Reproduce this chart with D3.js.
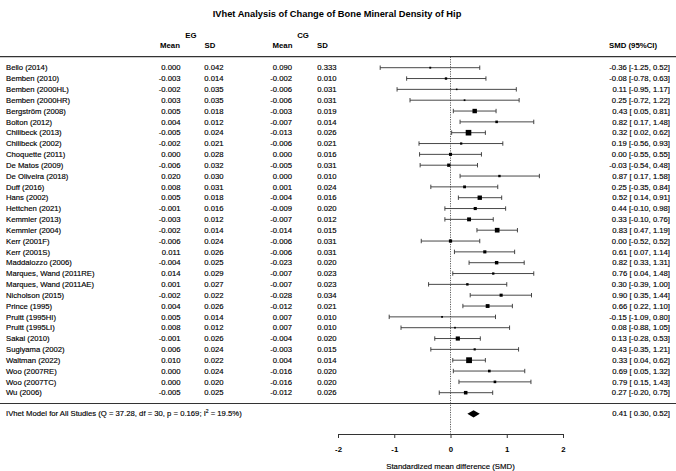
<!DOCTYPE html>
<html>
<head>
<meta charset="utf-8">
<script src="https://cdn.jsdelivr.net/npm/d3@7"></script>
<style>
  body { margin: 0; background: #fff; }
  svg { font-family: "Liberation Sans", Arial, Helvetica, sans-serif; }
  text { white-space: pre; fill: #000; }
</style>
</head>
<body>
<svg id="forest" width="676" height="471"></svg>
<script>
// study rows, top to bottom
const studies = [
  "Bello (2014)", "Bemben (2010)", "Bemben (2000HL)", "Bemben (2000HR)", "Bergström (2008)",
  "Bolton (2012)", "Chilibeck (2013)", "Chilibeck (2002)", "Choquette (2011)", "De Matos (2009)",
  "De Oliveira (2018)", "Duff (2016)", "Hans (2002)", "Hettchen (2021)", "Kemmler (2013)",
  "Kemmler (2004)", "Kerr (2001F)", "Kerr (2001S)", "Maddalozzo (2006)", "Marques, Wand (2011RE)",
  "Marques, Wand (2011AE)", "Nicholson (2015)", "Prince (1995)", "Pruitt (1995HI)", "Pruitt (1995LI)",
  "Sakai (2010)", "Sugiyama (2002)", "Waltman (2022)", "Woo (2007RE)", "Woo (2007TC)", "Wu (2006)"
];
const egMean = [0.000, -0.003, -0.002, 0.003, 0.005, 0.004, -0.005, -0.002, 0.000, -0.006,
  0.020, 0.008, 0.005, -0.001, -0.003, -0.002, -0.006, 0.011, -0.004, 0.014,
  0.001, -0.002, 0.004, 0.005, 0.008, -0.001, 0.006, 0.010, 0.000, 0.000, -0.005];
const egSD = [0.042, 0.014, 0.035, 0.035, 0.018, 0.012, 0.024, 0.021, 0.028, 0.032,
  0.030, 0.031, 0.018, 0.016, 0.012, 0.014, 0.024, 0.026, 0.025, 0.029,
  0.027, 0.022, 0.026, 0.014, 0.012, 0.026, 0.024, 0.022, 0.024, 0.020, 0.025];
const cgMean = [0.090, -0.002, -0.006, -0.006, -0.003, -0.007, -0.013, -0.006, 0.000, -0.005,
  0.000, 0.001, -0.004, -0.009, -0.007, -0.014, -0.006, -0.006, -0.023, -0.007,
  -0.007, -0.028, -0.012, 0.007, 0.007, -0.004, -0.003, 0.004, -0.016, -0.016, -0.012];
const cgSD = [0.333, 0.010, 0.031, 0.031, 0.019, 0.014, 0.026, 0.021, 0.016, 0.031,
  0.010, 0.024, 0.016, 0.020, 0.012, 0.015, 0.031, 0.031, 0.020, 0.023,
  0.023, 0.034, 0.021, 0.010, 0.010, 0.020, 0.015, 0.014, 0.020, 0.020, 0.026];
const smd = [-0.36, -0.08, 0.11, 0.25, 0.43, 0.82, 0.32, 0.19, 0.00, -0.03,
  0.87, 0.25, 0.52, 0.44, 0.33, 0.83, 0.00, 0.61, 0.82, 0.76,
  0.30, 0.90, 0.66, -0.15, 0.08, 0.13, 0.43, 0.33, 0.69, 0.79, 0.27];
const ciLow = [-1.25, -0.78, -0.95, -0.72, 0.05, 0.17, 0.02, -0.56, -0.55, -0.54,
  0.17, -0.35, 0.14, -0.10, -0.10, 0.47, -0.52, 0.07, 0.33, 0.04,
  -0.39, 0.35, 0.22, -1.09, -0.88, -0.28, -0.35, 0.04, 0.05, 0.15, -0.20];
const ciHigh = [0.52, 0.63, 1.17, 1.22, 0.81, 1.48, 0.62, 0.93, 0.55, 0.48,
  1.58, 0.84, 0.91, 0.98, 0.76, 1.19, 0.52, 1.14, 1.31, 1.48,
  1.00, 1.44, 1.10, 0.80, 1.05, 0.53, 1.21, 0.62, 1.32, 1.43, 0.75];

// pooled estimate
const pooled = {est: 0.41, lo: 0.30, hi: 0.52};
const xTicks = [-2, -1, 0, 1, 2];

const svg = d3.select("#forest");
const W = 676;

const rows = studies.map(function(name, i){
  let se = (ciHigh[i] - ciLow[i]) / 3.92;
  return {name: name, egM: egMean[i], egS: egSD[i], cgM: cgMean[i], cgS: cgSD[i],
          est: smd[i], lo: ciLow[i], hi: ciHigh[i], w: 1 / (se * se)};
});

let x = d3.scaleLinear().domain([-2, 2]).range([338, 563]);
let y = d3.scalePoint().domain(studies).range([67.7, 392.7]);
let size = d3.scaleSqrt().domain([0, d3.max(rows, d => d.w)]).range([0, 5.8]);

// plain hyphen for negatives, like the original
let loc = d3.formatLocale({decimal: ".", thousands: ",", grouping: [3], currency: ["", ""], minus: "-"});
let f3 = loc.format(".3f");
let f2 = loc.format(".2f");
function ciText(e, lo, hi){
  return f2(e) + " [" + (lo >= 0 ? " " : "") + f2(lo) + ", " + f2(hi) + "]";
}

const topLine = 56.7, sepLine = 403.5, sumY = 413.8, axisY = 434;

// title
svg.append("text")
  .attr("x", 337).attr("y", 14).attr("dy", "0.35em")
  .attr("text-anchor", "middle")
  .attr("font-size", "9.3px").attr("font-weight", "bold")
  .text("IVhet Analysis of Change of Bone Mineral Density of Hip");

// column headers
let head = svg.append("g").attr("font-size", "7.8px").attr("font-weight", "bold").attr("text-anchor", "middle");
head.append("text").attr("x", 191).attr("y", 35.5).attr("dy", "0.35em").text("EG");
head.append("text").attr("x", 303).attr("y", 35.5).attr("dy", "0.35em").text("CG");
head.append("text").attr("x", 170).attr("y", 45.5).attr("dy", "0.35em").text("Mean");
head.append("text").attr("x", 210).attr("y", 45.5).attr("dy", "0.35em").text("SD");
head.append("text").attr("x", 282.5).attr("y", 45.5).attr("dy", "0.35em").text("Mean");
head.append("text").attr("x", 322.5).attr("y", 45.5).attr("dy", "0.35em").text("SD");
head.append("text").attr("x", 633).attr("y", 45.5).attr("dy", "0.35em").text("SMD (95%CI)");

// horizontal rules
svg.append("line").attr("x1", 0).attr("x2", W).attr("y1", topLine).attr("y2", topLine)
  .attr("stroke", "#333").attr("stroke-width", 1.2);
svg.append("line").attr("x1", 0).attr("x2", W).attr("y1", sepLine).attr("y2", sepLine)
  .attr("stroke", "#333").attr("stroke-width", 1.2);

// null line
svg.append("line").attr("x1", x(0)).attr("x2", x(0)).attr("y1", topLine).attr("y2", axisY)
  .attr("stroke", "#333").attr("stroke-width", 0.8).attr("stroke-dasharray", "1.2,1.2");

// table text
let tbl = svg.append("g").attr("font-size", "7.7px").attr("stroke", "#000").attr("stroke-width", 0.15);
let rowG = tbl.selectAll("g.row").data(rows).enter().append("g").attr("class", "row")
  .attr("transform", d => "translate(0," + y(d.name) + ")");
rowG.append("text").attr("x", 6).attr("dy", "0.35em").text(d => d.name);
rowG.append("text").attr("x", 180.5).attr("dy", "0.35em").attr("text-anchor", "end").text(d => f3(d.egM));
rowG.append("text").attr("x", 223.5).attr("dy", "0.35em").attr("text-anchor", "end").text(d => f3(d.egS));
rowG.append("text").attr("x", 292).attr("dy", "0.35em").attr("text-anchor", "end").text(d => f3(d.cgM));
rowG.append("text").attr("x", 336.5).attr("dy", "0.35em").attr("text-anchor", "end").text(d => f3(d.cgS));
rowG.append("text").attr("x", 670).attr("dy", "0.35em").attr("text-anchor", "end").text(d => ciText(d.est, d.lo, d.hi));

// CI bars with caps
let marks = svg.append("g").attr("stroke", "#333").attr("stroke-width", 0.9);
marks.selectAll("line.ci").data(rows).enter().append("line").attr("class", "ci")
  .attr("x1", d => x(d.lo)).attr("x2", d => x(d.hi))
  .attr("y1", d => y(d.name)).attr("y2", d => y(d.name));
marks.selectAll("line.capL").data(rows).enter().append("line").attr("class", "capL")
  .attr("x1", d => x(d.lo)).attr("x2", d => x(d.lo))
  .attr("y1", d => y(d.name) - 2.2).attr("y2", d => y(d.name) + 2.2);
marks.selectAll("line.capR").data(rows).enter().append("line").attr("class", "capR")
  .attr("x1", d => x(d.hi)).attr("x2", d => x(d.hi))
  .attr("y1", d => y(d.name) - 2.2).attr("y2", d => y(d.name) + 2.2);

// weighted squares
svg.append("g").selectAll("rect").data(rows).enter().append("rect")
  .attr("x", d => x(d.est) - size(d.w) / 2)
  .attr("y", d => y(d.name) - size(d.w) / 2)
  .attr("width", d => size(d.w)).attr("height", d => size(d.w))
  .attr("fill", "#000");

// summary row
let sum = svg.append("text").attr("x", 6).attr("y", sumY).attr("dy", "0.35em").attr("font-size", "7.7px")
  .attr("stroke", "#000").attr("stroke-width", 0.15);
sum.append("tspan").text("IVhet Model for All Studies (Q = 37.28, df = 30, p = 0.169; I");
sum.append("tspan").attr("font-size", "5px").attr("dy", "-3").text("2");
sum.append("tspan").attr("dy", "3").text(" = 19.5%)");
svg.append("text").attr("x", 670).attr("y", sumY).attr("dy", "0.35em").attr("font-size", "7.7px")
  .attr("stroke", "#000").attr("stroke-width", 0.15)
  .attr("text-anchor", "end").text(ciText(pooled.est, pooled.lo, pooled.hi));

svg.append("path")
  .attr("d", "M" + x(pooled.lo) + "," + sumY + "L" + x(pooled.est) + "," + (sumY - 3.6) +
             "L" + x(pooled.hi) + "," + sumY + "L" + x(pooled.est) + "," + (sumY + 3.6) + "Z")
  .attr("fill", "#000");

// x axis
let axis = d3.axisBottom(x).tickValues(xTicks).tickFormat(loc.format("d")).tickSize(4).tickSizeOuter(0).tickPadding(8);
let ax = svg.append("g").attr("transform", "translate(0," + axisY + ")").call(axis);
ax.select(".domain").attr("stroke", "#333");
ax.selectAll(".tick line").attr("stroke", "#333");
ax.selectAll(".tick text").attr("font-size", "7.8px").attr("font-weight", "bold")
  .attr("font-family", "Liberation Sans, Arial, sans-serif").attr("fill", "#000");

svg.append("text")
  .attr("x", x(0)).attr("y", 466).attr("dy", "0.35em")
  .attr("text-anchor", "middle").attr("font-size", "7.8px")
  .attr("stroke", "#000").attr("stroke-width", 0.15)
  .text("Standardized mean difference (SMD)");
</script>
</body>
</html>
